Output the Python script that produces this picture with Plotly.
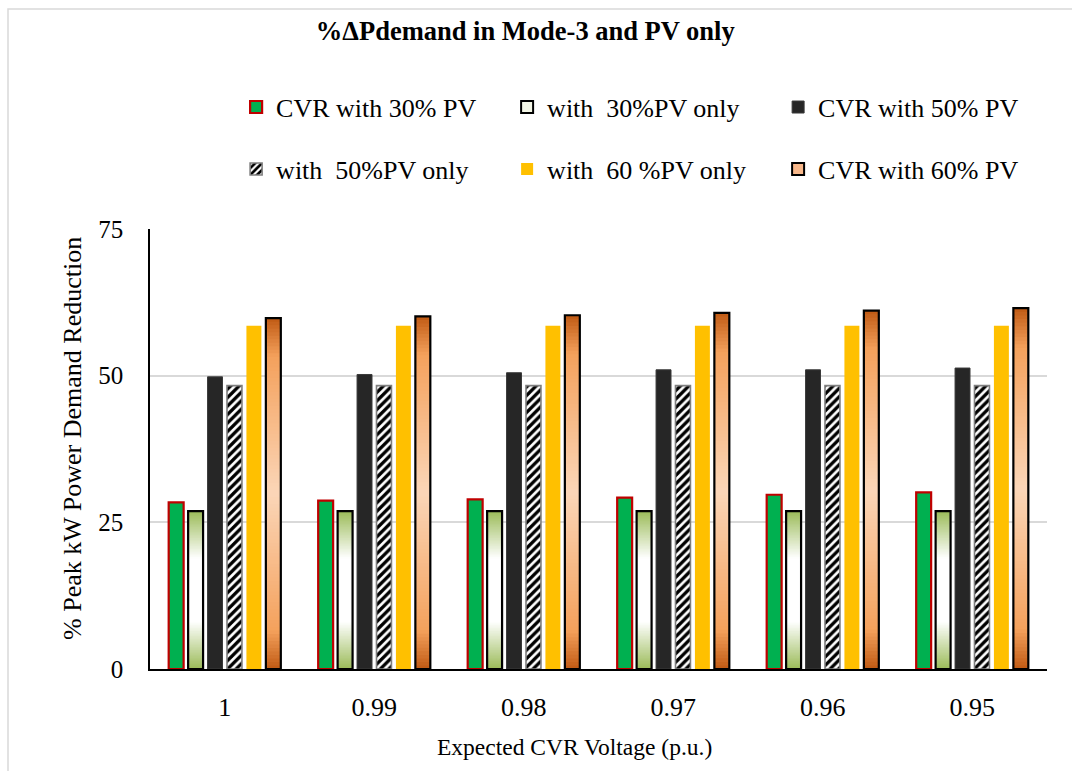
import plotly.graph_objects as go

# Expected CVR voltage set-points (p.u.)
voltages = ["1", "0.99", "0.98", "0.97", "0.96", "0.95"]

# % peak kW power demand reduction for each case
cvr_30pv = [28.4, 28.7, 28.9, 29.2, 29.7, 30.1]
pv30_only = [26.9, 26.9, 26.9, 26.9, 26.9, 26.9]
cvr_50pv = [49.8, 50.2, 50.5, 51.0, 51.0, 51.3]
pv50_only = [48.3, 48.3, 48.3, 48.3, 48.3, 48.3]
pv60_only = [58.5, 58.5, 58.5, 58.5, 58.5, 58.5]
cvr_60pv = [59.8, 60.1, 60.3, 60.7, 61.1, 61.5]

SERIF = "'Liberation Serif', 'Times New Roman', Times, 'DejaVu Serif', serif"


def hex_rgb(h):
    h = h.lstrip("#")
    return tuple(int(h[i:i + 2], 16) for i in (0, 2, 4))


def gradient_colour(stops, d):
    """Colour at distance d (0 = centre of bar, 1 = top/bottom edge)."""
    for (d0, c0), (d1, c1) in zip(stops[:-1], stops[1:]):
        if d0 <= d <= d1:
            t = 0 if d1 == d0 else (d - d0) / (d1 - d0)
            a, b = hex_rgb(c0), hex_rgb(c1)
            r = [round(a[i] + (b[i] - a[i]) * t) for i in range(3)]
            return "rgb(%d,%d,%d)" % tuple(r)
    return stops[-1][1]


GREEN_FADE = [(0.0, "#FFFFFF"), (0.40, "#FFFFFF"), (1.0, "#9BBB59")]
ORANGE_FADE = [(0.0, "#FBD6B8"), (0.78, "#F4A15C"), (1.0, "#C05A14")]

fig = go.Figure()


def gradient_bars(values, stops, group, n=100):
    # Each band runs from its own start up to the top of the bar; later bands
    # sit over earlier ones, so only a thin slice of each remains visible.
    for k in range(n):
        frac = k / n
        mid = (k + 0.5) / n
        colour = gradient_colour(stops, abs(2 * mid - 1))
        fig.add_trace(go.Bar(
            x=voltages,
            y=[v * (1 - frac) for v in values],
            base=[v * frac for v in values],
            marker=dict(color=colour, line=dict(width=0)),
            offsetgroup=group, alignmentgroup="all",
            showlegend=False, hoverinfo="skip",
        ))
    # outline on top of the shaded bands
    fig.add_trace(go.Bar(
        x=voltages, y=values,
        marker=dict(color="rgba(0,0,0,0)", line=dict(color="black", width=2.2)),
        offsetgroup=group, alignmentgroup="all", showlegend=False,
    ))


def legend_entry(name, fill, line_colour, legend, group):
    fig.add_trace(go.Bar(
        x=voltages, y=[None] * len(voltages), name=name,
        marker=dict(color=fill, line=dict(color=line_colour, width=2)),
        offsetgroup=group, alignmentgroup="all", legend=legend,
    ))


# CVR with 30% PV
fig.add_trace(go.Bar(
    x=voltages, y=cvr_30pv, name="CVR with 30% PV",
    marker=dict(color="#00B050", line=dict(color="#C00000", width=2.2)),
    offsetgroup="g1", alignmentgroup="all", legend="legend",
))

# with 30% PV only (green-white-green shading)
legend_entry("with  30%PV only", "#F3F6E6", "black", "legend", "g2")
gradient_bars(pv30_only, GREEN_FADE, "g2")

# CVR with 50% PV
fig.add_trace(go.Bar(
    x=voltages, y=cvr_50pv, name="CVR with 50% PV",
    marker=dict(color="#262626", line=dict(color="#3A3A3A", width=1)),
    offsetgroup="g3", alignmentgroup="all", legend="legend",
))

# with 50% PV only (diagonal hatching)
fig.add_trace(go.Bar(
    x=voltages, y=pv50_only, name="with  50%PV only",
    marker=dict(
        color="white",
        line=dict(color="#7F7F7F", width=1.6),
        pattern=dict(shape="/", fgcolor="black", bgcolor="white",
                     size=6, solidity=0.55, fillmode="replace"),
    ),
    offsetgroup="g4", alignmentgroup="all", legend="legend2",
))

# with 60% PV only
fig.add_trace(go.Bar(
    x=voltages, y=pv60_only, name="with  60 %PV only",
    marker=dict(color="#FFC000", line=dict(width=0)),
    offsetgroup="g5", alignmentgroup="all", legend="legend2",
))

# CVR with 60% PV (orange shading)
legend_entry("CVR with 60% PV", "#F8B88B", "black", "legend2", "g6")
gradient_bars(cvr_60pv, ORANGE_FADE, "g6")

legend_style = dict(
    orientation="h", xanchor="left", yanchor="middle",
    entrywidth=226, entrywidthmode="pixels",
    font=dict(family=SERIF, size=26, color="black"),
    bgcolor="rgba(0,0,0,0)", borderwidth=0,
    traceorder="normal", itemclick=False, itemdoubleclick=False,
)

fig.update_layout(
    width=1072, height=771,
    margin=dict(l=150, r=25, t=229, b=102),
    paper_bgcolor="white", plot_bgcolor="white",
    barmode="group", bargap=0.22, bargroupgap=0.23,
    title=dict(
        text="<b>%ΔPdemand in Mode-3 and PV only</b>",
        font=dict(family=SERIF, size=26.5, color="black"),
        x=0.49, xanchor="center", xref="container",
        y=0.96, yanchor="middle", yref="container",
    ),
    legend=dict(legend_style, x=0.096, y=1.277),
    legend2=dict(legend_style, x=0.096, y=1.136),
    xaxis=dict(
        type="category",
        showline=True, linecolor="black", linewidth=1.5,
        showgrid=False, ticks="",
        tickfont=dict(family=SERIF, size=26, color="black"),
        ticklabelstandoff=14,
    ),
    yaxis=dict(
        range=[0, 75], tickvals=[0, 25, 50, 75],
        showline=True, linecolor="black", linewidth=1.5,
        showgrid=True, gridcolor="#D9D9D9", gridwidth=1.5,
        zeroline=False, ticks="",
        tickfont=dict(family=SERIF, size=25, color="black"),
        ticklabelstandoff=20,
    ),
    annotations=[
        dict(text="Expected CVR Voltage (p.u.)",
             xref="paper", yref="paper", x=0.4727, y=-0.177,
             xanchor="center", yanchor="middle", showarrow=False,
             font=dict(family=SERIF, size=23.5, color="black")),
        dict(text="% Peak kW Power Demand Reduction",
             xref="paper", yref="paper", x=-0.087, y=0.525,
             xanchor="center", yanchor="middle", showarrow=False,
             textangle=-90,
             font=dict(family=SERIF, size=26, color="black")),
    ],
    shapes=[dict(
        type="rect", xref="paper", yref="paper",
        x0=(8 - 150) / 897, x1=1.2, y0=-0.5, y1=(669 - 9) / 440,
        line=dict(color="#D9D9D9", width=1.5), fillcolor="rgba(0,0,0,0)",
        layer="below",
    )],
    showlegend=True,
)

fig.write_html("out.html")
